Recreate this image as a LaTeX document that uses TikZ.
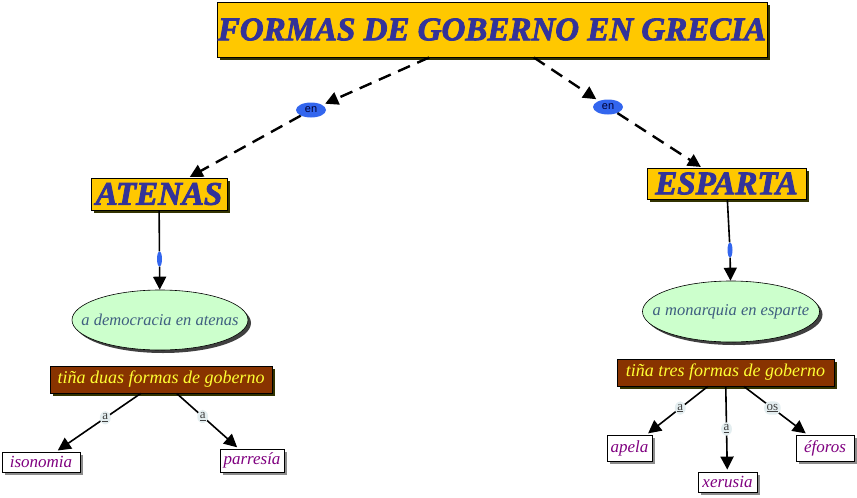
\documentclass[tikz,border=0pt]{standalone}
\usepackage{fontspec}
\setmainfont{Liberation Serif}
\setsansfont{Liberation Sans}
\newfontfamily\heavyfont{Liberation Serif}[BoldItalicFeatures={FakeBold=2.5}]
\usetikzlibrary{arrows.meta,shadows,shapes.geometric}
\definecolor{gold}{HTML}{FFC800}
\definecolor{titleblue}{HTML}{333399}
\definecolor{olive}{HTML}{333300}
\definecolor{brownbox}{HTML}{883300}
\definecolor{yell}{HTML}{FFFF33}
\definecolor{mint}{HTML}{CCFFCC}
\definecolor{slate}{HTML}{3F5F80}
\definecolor{purp}{HTML}{800080}
\definecolor{lblue}{HTML}{3366EE}
\definecolor{lbg}{HTML}{E4EEF0}
\tikzset{
  bigbox/.style={draw=black, line width=1pt, fill=gold, inner sep=0pt,
    drop shadow={shadow xshift=3pt, shadow yshift=-3pt, opacity=1, fill=olive},
    font=\heavyfont\fontsize{33}{33}\selectfont\bfseries\itshape, text=titleblue},
  ovalnode/.style={ellipse, draw=black, line width=0.6pt, fill=mint, inner sep=0pt,
    drop shadow={shadow xshift=3pt, shadow yshift=-3pt, opacity=1, fill=black!75},
    font=\fontsize{16.5}{16.5}\selectfont\itshape, text=slate},
  brownnode/.style={draw=black, line width=0.8pt, fill=brownbox, inner sep=0pt,
    drop shadow={shadow xshift=3pt, shadow yshift=-3pt, opacity=1, fill=olive},
    font=\fontsize{18}{18}\selectfont\itshape, text=yell},
  leafnode/.style={draw=black, line width=0.8pt, fill=white, inner sep=0pt,
    drop shadow={shadow xshift=3pt, shadow yshift=-3pt, opacity=1, fill=black!45},
    font=\fontsize{17}{17}\selectfont\itshape, text=purp},
  enlbl/.style={ellipse, fill=lblue, inner sep=0pt, minimum width=30pt, minimum height=15pt,
    font=\sffamily\fontsize{11}{11}\selectfont, text=black!80!blue},
  dotlbl/.style={ellipse, fill=lblue, inner sep=0pt, minimum width=5pt, minimum height=15pt},
  alabel/.style={fill=lbg, rounded corners=6pt, inner sep=2.5pt,
    font=\fontsize{13}{13}\selectfont, text=black!75},
  dashlink/.style={line width=2.4pt, dash pattern=on 13pt off 8pt},
  solidlink/.style={line width=1.6pt},
  tip/.style={-{Triangle[length=13pt,width=13pt]}}
}
\begin{document}
\begin{tikzpicture}[x=1pt,y=-1pt]
\useasboundingbox (0,0) rectangle (857,498);

\node[bigbox, minimum width=550pt, minimum height=55pt] (title) at (492,29.5) {FORMAS DE GOBERNO EN GRECIA};
\node[bigbox, minimum width=136pt, minimum height=32pt] (atenas) at (159,194) {ATENAS};
\node[bigbox, minimum width=159pt, minimum height=31pt] (esparta) at (726.5,183.5) {ESPARTA};

\node[enlbl] (enL) at (311,110) {en};
\node[enlbl] (enR) at (608,107) {en};

\draw[dashlink, tip, shorten >=3pt] (title) -- (enL);
\draw[dashlink, tip, shorten >=3pt] (title) -- (enR);
\draw[dashlink, tip, shorten >=1pt] (enL) -- (atenas);
\draw[dashlink, tip, shorten >=1pt] (enR) -- (esparta);

\node[ovalnode, minimum width=176pt, minimum height=60pt] (demo) at (160,320) {\makebox[0pt]{a democracia en atenas}};
\node[ovalnode, minimum width=177pt, minimum height=61pt] (mono) at (731,311.5) {\makebox[0pt]{a monarquia en esparte}};

\node[dotlbl] (dL) at (159.5,259) {};
\node[dotlbl] (dR) at (730,250) {};

\draw[solidlink] (atenas) -- (dL);
\draw[solidlink, tip] (dL) -- (demo);
\draw[solidlink] (esparta) -- (dR);
\draw[solidlink, tip] (dR) -- (mono);

\node[brownnode, minimum width=222pt, minimum height=27pt] (tdos) at (161,379.5) {tiña duas formas de goberno};
\node[brownnode, minimum width=217pt, minimum height=27pt] (ttres) at (725.5,372.5) {tiña tres formas de goberno};

\node[leafnode, minimum width=78pt, minimum height=20pt] (iso) at (41,462) {isonomia};
\node[leafnode, minimum width=64pt, minimum height=23pt] (parr) at (252,460.5) {parresía};
\node[leafnode, minimum width=45pt, minimum height=26pt] (apela) at (629.5,448) {apela};
\node[leafnode, minimum width=59pt, minimum height=20pt] (xeru) at (727.5,482) {xerusia};
\node[leafnode, minimum width=58pt, minimum height=26pt] (efor) at (825,448) {éforos};

\draw[solidlink, tip, shorten >=2pt] (tdos) -- node[alabel, pos=0.42] (la1) {\underline{a}} (iso);
\draw[solidlink, tip, shorten >=2pt] (tdos) -- node[alabel, pos=0.42] (la2) {\underline{a}} (parr);
\draw[solidlink, tip, shorten >=2pt] (ttres) -- node[alabel, pos=0.45] (la3) {\underline{a}} (apela);
\draw[solidlink, tip, shorten >=2pt] (ttres) -- node[alabel, pos=0.5] (la4) {\underline{a}} (xeru);
\draw[solidlink, tip, shorten >=2pt] (ttres) -- node[alabel, pos=0.45] (la5) {\underline{os}} (efor);
\end{tikzpicture}
\end{document}
